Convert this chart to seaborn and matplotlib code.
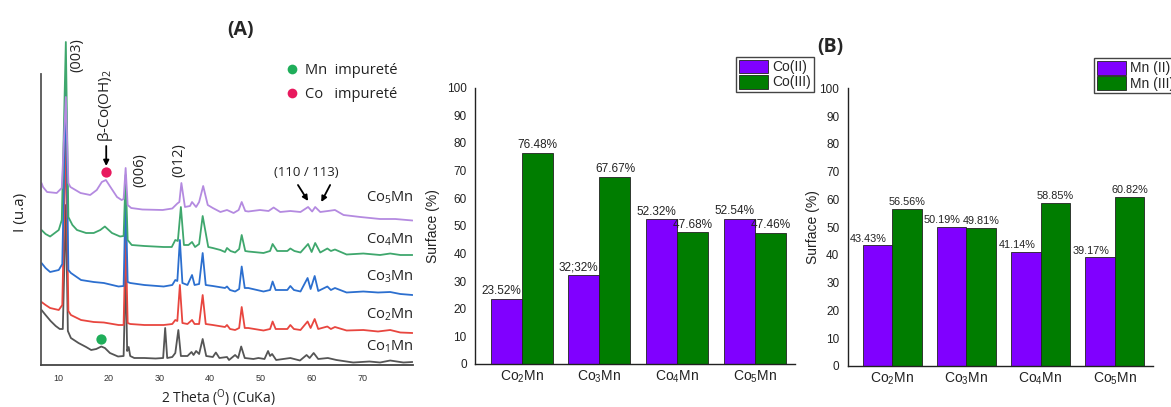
import matplotlib
matplotlib.use("Agg")
import numpy as np
import pandas as pd
import matplotlib.pyplot as plt
import seaborn as sns
from matplotlib.patches import Patch
from matplotlib.lines import Line2D
import matplotlib.transforms as mtransforms

# ---------------- data : XRD patterns (2 theta, intensity in stacked units) ----------------
samples = ["Co1Mn", "Co2Mn", "Co3Mn", "Co4Mn", "Co5Mn"]
sample_labels = [r"$\mathregular{Co_1Mn}$", r"$\mathregular{Co_2Mn}$", r"$\mathregular{Co_3Mn}$",
                 r"$\mathregular{Co_4Mn}$", r"$\mathregular{Co_5Mn}$"]
label_level = [18, 50, 88, 125, 167]

tt_co1 = [6.7, 7.5, 8.5, 9.5, 10.3, 10.9, 11.5, 11.9, 12.5, 14, 15.5, 16.5, 17.5, 18.5, 19.2, 20.2,
          21.8, 22.9, 23.3, 23.6, 23.9, 24.2, 25, 27, 29.2, 30.7, 31.1, 31.5, 32.5, 33.1, 33.7, 34.2,
          35.5, 36.3, 36.7, 37.2, 37.8, 38.5, 39.2, 40.5, 41.1, 41.8, 43.3, 43.7, 44.9, 45.5, 46.1,
          46.8, 48.5, 49.5, 50.7, 51.4, 51.8, 52.2, 53.0, 55.8, 57.7, 59.0, 59.6, 60.4, 61.3, 63.2,
          64.9, 68.2, 71.4, 73.5, 75.5, 78.1, 79.9]
i_co1 = [55, 50, 44, 39, 36, 36, 160, 34, 27, 22, 18, 15, 16, 18.5, 17, 12,
         8.5, 9, 95, 14, 18, 9, 7, 7, 6.5, 7, 37, 7, 8, 12, 35, 9,
         9, 13, 10, 14, 11, 26, 9, 8, 12.5, 7, 8, 5, 10, 7, 18.5,
         7, 6, 7, 6, 14, 9, 11, 5, 7, 4.5, 10, 7, 12, 6, 7,
         5, 2.5, 3.5, 2.5, 4.5, 2.5, 3]

tt_co2 = [6.7, 7.5, 8.4, 10.1, 10.8, 11.5, 12.0, 12.5, 14.5, 17, 19, 21.9, 22.9, 23.3, 23.7, 24.2,
          27, 30.8, 32.5, 33.1, 33.5, 34.0, 34.5, 35.5, 36.4, 36.9, 37.8, 38.5, 39.1, 40.5, 42.9,
          43.3, 43.9, 44.9, 45.7, 46.2, 46.8, 47.5, 50.5, 51.8, 52.3, 52.9, 55.2, 55.8, 56.5, 57.8,
          59.2, 59.8, 60.6, 61.3, 63.1, 63.8, 64.6, 66.9, 70.2, 73.1, 75.5, 77.5, 79.9]
i_co2 = [63, 60, 57, 55, 60, 230, 54, 50, 45, 43, 42.5, 40, 40, 130, 42, 41,
         40, 40, 41, 45, 44, 80, 42, 41, 45, 41, 41, 70, 41, 40, 38,
         40, 36, 35, 37, 58, 37, 37, 34.5, 36, 43.5, 36, 36, 40, 36, 35,
         43.5, 37, 46, 36, 38.5, 36, 38, 34.5, 35, 33.5, 35, 32.5, 32]

tt_co3 = tt_co2
i_co3 = [102, 97, 93, 95, 101, 280, 95, 92, 85, 83, 82, 78.5, 79, 170, 83, 82,
         80, 78.5, 80, 85, 84, 125, 82, 80, 90, 80, 81, 112, 80, 79, 77,
         78.5, 75, 73.5, 76, 98.5, 77, 77, 73.5, 75, 83.5, 75, 75, 79, 75, 73.5,
         87, 76, 89, 74, 78.5, 75, 77, 72.5, 73.5, 72.5, 73, 71, 70]

tt_co4 = [6.7, 7.5, 8.4, 10.1, 10.7, 11.5, 12.0, 12.8, 13.7, 15.5, 17, 18.3, 19.2, 20.6, 22.2, 22.9,
          23.3, 23.7, 24.5, 27, 30.8, 32.4, 33.1, 33.6, 34.2, 34.8, 35.7, 36.4, 37.0, 37.8, 38.5,
          39.6, 40.5, 42.0, 42.9, 43.3, 44.0, 44.9, 45.7, 46.2, 46.9, 47.5, 50.5, 51.8, 52.3, 53.2,
          55.2, 55.8, 56.6, 57.8, 59.3, 60.0, 60.7, 61.7, 63.1, 63.8, 64.6, 66.9, 70.2, 73.5, 75.5,
          77.5, 79.9]
i_co4 = [135, 131, 128.5, 135, 145, 323, 148, 140, 135, 132, 132, 135, 138.5, 132, 128.5, 129,
         190, 125, 120, 119, 118, 118, 125, 124, 158, 120, 120, 123, 118, 121, 149,
         118, 117, 115, 113, 117, 114, 112.5, 116, 130, 114, 113.5, 112, 114, 121, 114,
         114, 116.5, 114, 112.5, 121, 113, 122, 112.5, 116.5, 114, 115.5, 110.5, 111.5, 110, 111.5,
         110, 110]

tt_co5 = [6.7, 7.0, 7.8, 9.7, 10.7, 11.5, 12.0, 12.4, 14.4, 16.3, 17.6, 18.6, 19.4, 20.3, 21.6, 22.5,
          22.9, 23.3, 23.7, 24.4, 26.6, 30.6, 32.5, 33.5, 33.9, 34.3, 35.0, 36.0, 36.4, 37.2, 37.8,
          38.6, 39.5, 40.5, 42.0, 43.3, 44.6, 45.6, 46.2, 46.9, 47.5, 49.8, 51.5, 52.5, 53.8, 55.8,
          57.8, 59.3, 60.1, 60.7, 61.7, 63.2, 64.6, 66.3, 69.6, 73.5, 76.5, 79.9]
i_co5 = [182, 178, 173, 172, 177, 268, 182, 178, 172, 170, 175, 183, 185, 178, 168, 165,
         166, 197, 160, 157, 155.5, 155, 156.5, 161.5, 163, 182, 158, 159, 163, 158, 163,
         179, 160, 157, 153, 155, 152, 155, 163, 154, 153.5, 155, 154, 157.5, 153, 154,
         153, 158, 153.5, 158, 153, 154, 155, 150, 148, 146, 146, 144.5]

xrd_colors = ["#555555", "#e8463f", "#2c6fcf", "#3fa76d", "#b48ae0"]

# impurity markers (2 theta, intensity)
mn_imp_tt, mn_imp_i = [18.5], [26]
co_imp_tt, co_imp_i = [19.5], [193]

# ---------------- data : XPS surface fractions ----------------
bar_samples = ["Co2Mn", "Co3Mn", "Co4Mn", "Co5Mn"]
bar_ticklabels = [r"$\mathregular{Co_2Mn}$", r"$\mathregular{Co_3Mn}$",
                  r"$\mathregular{Co_4Mn}$", r"$\mathregular{Co_5Mn}$"]
co_ii = [23.52, 32.32, 52.32, 52.54]
co_iii = [76.48, 67.67, 47.68, 47.46]
co_ii_txt = ["23.52%", "32;32%", "52.32%", "52.54%"]
co_iii_txt = ["76.48%", "67.67%", "47.68%", "47.46%"]
mn_ii = [43.43, 50.19, 41.14, 39.17]
mn_iii = [56.56, 49.81, 58.85, 60.82]
mn_ii_txt = ["43.43%", "50.19%", "41.14%", "39.17%"]
mn_iii_txt = ["56.56%", "49.81%", "58.85%", "60.82%"]

purple = "#8000ff"
green = "#007d00"

sns.set_style("white")
plt.rcParams["font.family"] = ["Liberation Sans", "DejaVu Sans"]
plt.rcParams["axes.linewidth"] = 1.0

fig = plt.figure(figsize=(11.71, 4.07), dpi=100)
W, H = 1171, 407


def px_axes(left, right, top, bottom):
    return fig.add_axes([left / W, 1 - bottom / H, (right - left) / W, (bottom - top) / H])


# ======================= panel A =======================
axA = px_axes(41, 413, 40, 365)
frames = []
for s, tt, ii in zip(samples, [tt_co1, tt_co2, tt_co3, tt_co4, tt_co5],
                     [i_co1, i_co2, i_co3, i_co4, i_co5]):
    frames.append(pd.DataFrame({"tt": tt, "I": ii, "sample": s}))
xrd = pd.concat(frames, ignore_index=True)
sns.lineplot(data=xrd, x="tt", y="I", hue="sample", hue_order=samples, palette=xrd_colors,
             estimator=None, sort=False, legend=False, lw=1.3, ax=axA)

sns.scatterplot(x=mn_imp_tt, y=mn_imp_i, color="#1fae5a", s=55, linewidth=0, ax=axA, zorder=5)
sns.scatterplot(x=co_imp_tt, y=co_imp_i, color="#e8195e", s=55, linewidth=0, ax=axA, zorder=5)

axA.set_xlim(6.6, 80)
axA.set_ylim(0, 325)
for sp in ["top", "right"]:
    axA.spines[sp].set_visible(False)
axA.spines["left"].set_bounds(0, 291)
axA.spines["left"].set_color("#555555")
axA.spines["bottom"].set_color("#444444")
axA.spines["left"].set_linewidth(1.3)
axA.spines["bottom"].set_linewidth(1.3)
axA.set_yticks([])
axA.set_xticks(np.arange(10, 71, 10))
axA.set_xticks(np.arange(10, 80, 5), minor=True)
axA.tick_params(axis="x", which="both", direction="out", length=3.5, width=0.8,
                color="#444444", labelsize=6.5, labelcolor="#333333", pad=3)
axA.set_xlabel(r"2 Theta ($\mathregular{^O}$) (CuKa)", fontsize=10, family="Open Sans", color="#222222")
axA.xaxis.set_label_coords(0.478, -0.068)
axA.set_ylabel("I (u.a)", fontsize=11, family="Open Sans", color="#222222")
axA.yaxis.set_label_coords(-0.035, 0.47)

tr = mtransforms.blended_transform_factory(axA.transAxes, axA.transData)
for lab, lev in zip(sample_labels, label_level):
    axA.text(1.0, lev, lab, transform=tr, ha="right", va="center", fontsize=10.5,
             family="Open Sans", color="#222222")

axA.text(13.75, 310, "(003)", rotation=90, ha="center", va="center", fontsize=10.5,
         family="Open Sans", color="#222222")
axA.text(19.37, 259, r"β-Co(OH)$\mathregular{_2}$", rotation=90, ha="center", va="center",
         fontsize=11, family="Open Sans", color="#222222")
axA.text(26.2, 195, "(006)", rotation=90, ha="center", va="center", fontsize=10.5,
         family="Open Sans", color="#222222")
axA.text(33.8, 205, "(012)", rotation=90, ha="center", va="center", fontsize=10.5,
         family="Open Sans", color="#222222")
axA.text(58.9, 193, "(110 / 113)", ha="center", va="center", fontsize=9.5,
         family="Open Sans", color="#222222")
arrow = dict(arrowstyle="-|>", color="black", lw=1.3, mutation_scale=8, shrinkA=0, shrinkB=0)
axA.annotate("", xy=(19.47, 199), xytext=(19.47, 219), arrowprops=arrow)
axA.annotate("", xy=(59.3, 164), xytext=(57.3, 180), arrowprops=arrow)
axA.annotate("", xy=(61.9, 163), xytext=(63.65, 180), arrowprops=arrow)

imp_handles = [Line2D([], [], ls="", marker="o", ms=7, color="#1fae5a", mew=0),
               Line2D([], [], ls="", marker="o", ms=7, color="#e8195e", mew=0)]
legA = axA.legend(imp_handles, ["Mn  impureté", "Co   impureté"], loc="upper left",
                  bbox_to_anchor=(0.655, 0.93), frameon=False, borderpad=0, borderaxespad=0,
                  handlelength=1.0, handletextpad=0.4, labelspacing=0.65,
                  prop={"family": "Open Sans", "size": 10.5})
for t in legA.get_texts():
    t.set_color("#222222")

fig.text(240 / W, 1 - 30 / H, "(A)", ha="center", va="center", fontsize=14,
         fontweight="bold", family="Open Sans")
fig.text(830 / W, 1 - 47 / H, "(B)", ha="center", va="center", fontsize=14,
         fontweight="bold", family="Open Sans")


# ======================= panel B =======================
def surface_bars(ax, low, high, low_txt, high_txt, names, dx_low, dx_high, fs,
                 leg_anchor, label_x):
    df = pd.DataFrame({
        "sample": bar_samples * 2,
        "state": [names[0]] * 4 + [names[1]] * 4,
        "value": low + high,
    })
    sns.barplot(data=df, x="sample", y="value", hue="state", order=bar_samples,
                hue_order=names, palette=[purple, green], saturation=1, width=0.8,
                errorbar=None, edgecolor="#222222", linewidth=0.6, legend=False, ax=ax)
    for cont, txts, dx in zip(ax.containers, [low_txt, high_txt], [dx_low, dx_high]):
        for bar, t in zip(cont, txts):
            ax.annotate(t, (bar.get_x() + bar.get_width() / 2, bar.get_height()),
                        xytext=(dx, 1.2), textcoords="offset points", ha="center",
                        va="bottom", fontsize=fs, color="#222222")
    ax.set_xlim(-0.6, 3.52)
    ax.set_ylim(0, 100)
    for sp in ["top", "right"]:
        ax.spines[sp].set_visible(False)
    for sp in ["left", "bottom"]:
        ax.spines[sp].set_color("#222222")
    ax.set_xticks(range(4))
    ax.set_xticklabels(bar_ticklabels, fontsize=10, color="#222222")
    ax.set_xticks([-0.5, 0.5, 1.5, 2.5, 3.5], minor=True)
    ax.tick_params(axis="x", which="major", length=0, pad=3)
    ax.tick_params(axis="x", which="minor", length=4, width=0.8, direction="out", color="#222222")
    ax.set_yticks(range(0, 101, 10))
    ax.set_yticks(range(5, 100, 10), minor=True)
    ax.tick_params(axis="y", which="major", length=4, width=0.8, direction="out",
                   labelsize=8.5, pad=2, color="#222222", labelcolor="#222222")
    ax.tick_params(axis="y", which="minor", length=2.5, width=0.8, direction="out",
                   color="#222222")
    ax.set_xlabel("")
    ax.set_ylabel("Surface (%)", fontsize=10, color="#222222")
    ax.yaxis.set_label_coords(label_x, 0.5)
    handles = [Patch(facecolor=purple, edgecolor="#222222", lw=0.6),
               Patch(facecolor=green, edgecolor="#222222", lw=0.6)]
    leg = ax.legend(handles, names, loc="upper left", bbox_to_anchor=leg_anchor,
                    borderaxespad=0, fancybox=False, framealpha=1, edgecolor="#444444",
                    fontsize=10, handlelength=2.1, handleheight=1.15, labelspacing=0.05,
                    borderpad=0.2, handletextpad=0.3)
    leg.get_frame().set_linewidth(1.0)
    leg.set_clip_on(False)


axB1 = px_axes(475, 795, 87.7, 364)
surface_bars(axB1, co_ii, co_iii, co_ii_txt, co_iii_txt, ["Co(II)", "Co(III)"],
             -3.6, 0.5, 8.5, (0.816, 1.112), -0.11)

axB2 = px_axes(847.7, 1153.3, 88.3, 366)
surface_bars(axB2, mn_ii, mn_iii, mn_ii_txt, mn_iii_txt, ["Mn (II)", "Mn (III)"],
             -6.5, 0.0, 7.8, (0.806, 1.109), -0.09)

fig.savefig("out.png", dpi=100, facecolor="white")
